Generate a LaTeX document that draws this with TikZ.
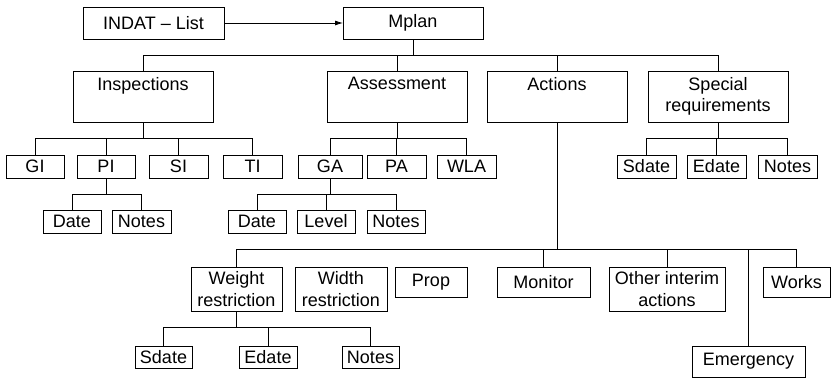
\documentclass[tikz,border=0pt]{standalone}
\usepackage{fontspec}
\setmainfont{Liberation Sans}
\usetikzlibrary{arrows.meta}
\begin{document}
\begin{tikzpicture}[x=1pt,y=-1pt,
  every node/.style={font=\fontsize{18}{21.5}\selectfont, inner sep=0pt, outer sep=0pt},
  box/.style={draw, line width=0.8pt, align=center},
  conn/.style={line width=0.8pt},
  toplabel/.style={label={[anchor=north,yshift=-6pt,align=center]north:#1}}]
\path[use as bounding box] (0,0) rectangle (833,378);
% top row
\node[box, minimum width=141pt, minimum height=32pt] (indat) at (153.5,23) {INDAT -- List};
\node[box, minimum width=140pt, minimum height=32pt] (mplan) at (413,23) {Mplan};
\draw[conn, -{Latex[length=8pt,width=5pt]}] (indat.east) -- (mplan.west);
% level 1
\node[box, minimum width=140pt, minimum height=51pt, toplabel=Inspections] (insp) at (143,96.5) {};
\node[box, minimum width=140pt, minimum height=51pt, toplabel=Assessment] (assess) at (397,96.5) {};
\node[box, minimum width=140pt, minimum height=51pt, toplabel=Actions] (actions) at (557,96.5) {};
\node[box, minimum width=140pt, minimum height=51pt] (special) at (718,96.5) {Special\\requirements};
\coordinate (b1) at (413,55);
\draw[conn] (mplan.south) -- (b1);
\foreach \c in {insp,assess,actions,special} \draw[conn] (\c.north) |- (b1);
% inspections children
\node[box, minimum width=58pt, minimum height=23pt] (gi) at (35,166.5) {GI};
\node[box, minimum width=58pt, minimum height=23pt] (pi) at (106,166.5) {PI};
\node[box, minimum width=59pt, minimum height=23pt] (si) at (178.5,166.5) {SI};
\node[box, minimum width=59pt, minimum height=23pt] (ti) at (252.5,166.5) {TI};
\coordinate (b2) at (143,138);
\draw[conn] (insp.south) -- (b2);
\foreach \c in {gi,pi,si,ti} \draw[conn] (\c.north) |- (b2);
% PI children
\node[box, minimum width=58pt, minimum height=23pt] (date1) at (72,221.5) {Date};
\node[box, minimum width=59pt, minimum height=23pt] (notes1) at (141.5,221.5) {Notes};
\coordinate (b3) at (106,194);
\draw[conn] (pi.south) -- (b3);
\foreach \c in {date1,notes1} \draw[conn] (\c.north) |- (b3);
% assessment children
\node[box, minimum width=64pt, minimum height=23pt] (ga) at (330,166.5) {GA};
\node[box, minimum width=59pt, minimum height=23pt] (pa) at (396.5,166.5) {PA};
\node[box, minimum width=59pt, minimum height=23pt] (wla) at (466.5,166.5) {WLA};
\coordinate (b4) at (397,138);
\draw[conn] (assess.south) -- (b4);
\foreach \c in {ga,pa,wla} \draw[conn] (\c.north) |- (b4);
% GA children
\node[box, minimum width=58pt, minimum height=23pt] (date2) at (257,221.5) {Date};
\node[box, minimum width=58pt, minimum height=23pt] (level) at (326,221.5) {Level};
\node[box, minimum width=58pt, minimum height=23pt] (notes2) at (396,221.5) {Notes};
\coordinate (b5) at (330,194);
\draw[conn] (ga.south) -- (b5);
\foreach \c in {date2,level,notes2} \draw[conn] (\c.north) |- (b5);
% special children
\node[box, minimum width=59pt, minimum height=23pt] (sdate1) at (646.5,166.5) {Sdate};
\node[box, minimum width=59pt, minimum height=23pt] (edate1) at (716.5,166.5) {Edate};
\node[box, minimum width=59pt, minimum height=23pt] (notes3) at (787.5,166.5) {Notes};
\coordinate (b6) at (718,138);
\draw[conn] (special.south) -- (b6);
\foreach \c in {sdate1,edate1,notes3} \draw[conn] (\c.north) |- (b6);
% actions children
\node[box, minimum width=91pt, minimum height=44pt] (weight) at (236.5,289) {Weight\\restriction};
\node[box, minimum width=92pt, minimum height=44pt] (width) at (341,289) {Width\\restriction};
\node[box, minimum width=72pt, minimum height=30pt] (prop) at (431,282) {Prop};
\node[box, minimum width=93pt, minimum height=30pt] (monitor) at (543.5,282) {Monitor};
\node[box, minimum width=116pt, minimum height=44pt] (other) at (667,289) {Other interim\\actions};
\node[box, minimum width=67pt, minimum height=30pt] (works) at (796.5,282) {Works};
\node[box, minimum width=113pt, minimum height=31pt] (emerg) at (748.5,361.5) {Emergency};
\coordinate (b7) at (557,249);
\draw[conn] (actions.south) -- (b7);
\foreach \c in {weight,monitor,other,emerg,works} \draw[conn] (\c.north) |- (b7);
% weight children
\node[box, minimum width=57pt, minimum height=22pt] (sdate2) at (163.5,357) {Sdate};
\node[box, minimum width=58pt, minimum height=22pt] (edate2) at (268,357) {Edate};
\node[box, minimum width=57pt, minimum height=22pt] (notes4) at (370.5,357) {Notes};
\coordinate (b8) at (236.5,327);
\draw[conn] (weight.south) -- (b8);
\foreach \c in {sdate2,edate2,notes4} \draw[conn] (\c.north) |- (b8);
\end{tikzpicture}
\end{document}
